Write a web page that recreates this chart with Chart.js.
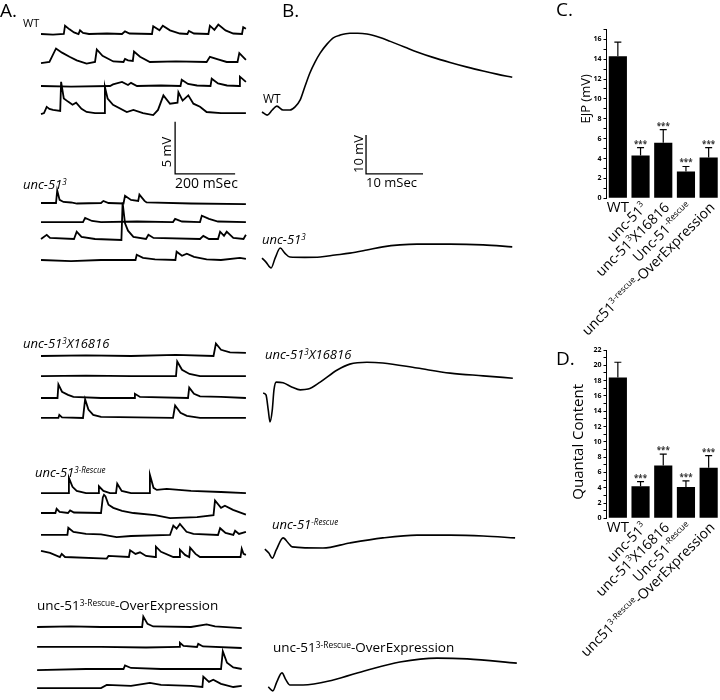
<!DOCTYPE html>
<html><head><meta charset="utf-8">
<script src="https://cdn.jsdelivr.net/npm/chart.js@4.4.1/dist/chart.umd.min.js"></script>
<style>
html,body{margin:0;padding:0;background:#fff;}
#wrap{position:relative;width:720px;height:700px;overflow:hidden;font-family:"Open Sans",sans-serif;color:#000;background:#fff;}
canvas{position:absolute;}
.lbl{position:absolute;white-space:nowrap;line-height:1;}
.lbl sup{font-size:0.62em;vertical-align:0.5em;line-height:0;}
</style></head><body><div id="wrap">
<canvas id="cA" width="255" height="700" style="left:0;top:0"></canvas>
<canvas id="cB" width="265" height="700" style="left:255px;top:0"></canvas>
<canvas id="cC" width="148" height="340" style="left:572px;top:0"></canvas>
<canvas id="cD" width="148" height="370" style="left:572px;top:330px"></canvas>
</div>
<script>
// ---------- Panels C & D : bar data ----------
const groupsC = ['WT', 'unc-51{3}', 'unc-51{3}X16816', 'Unc-51{-Rescue}', 'unc51{3-rescue}-OverExpression'];
const groupsD = ['WT', 'unc-51{3}', 'unc-51{3}X16816', 'Unc-51{-Rescue}', 'unc51{3-Rescue}-OverExpression'];
const ejpMean = [14.3, 4.3, 5.6, 2.7, 4.1];
const ejpErr  = [1.4, 0.8, 1.3, 0.5, 1.0];
const qcMean  = [18.4, 4.2, 6.9, 4.1, 6.6];
const qcErr   = [2.0, 0.6, 1.5, 0.8, 1.6];
const signif  = ['', '***', '***', '***', '***'];
const ejpTicks = [0, 2, 4, 6, 8, 10, 12, 14, 16];
const qcTicks  = [0, 2, 4, 6, 8, 10, 12, 14, 16, 18, 20, 22];

// ---------- Panel A : spontaneous traces [ms, mV] ----------
const wtA1 = [[0,0],[40,-0.05],[76,0],[80,0.8],[95,0.45],[110,0.15],[125,0],[130,0.35],[140,0.1],[160,0],[220,0.05],[270,0],[280,0.25],[295,0.05],[370,0],[374,0.75],[395,0.35],[406,0.8],[430,0.35],[463,0.05],[488,0],[493,0.3],[510,0.05],[558,0],[563,0.8],[578,0.4],[591,0.9],[615,0.35],[641,0.05],[670,0],[674,0.65],[683,0.5]];
const wtA2 = [[0,-0.1],[28,0],[50,1.3],[70,0.9],[95,0.5],[119,0.15],[152,-0.15],[180,0],[186,1.2],[205,0.6],[241,0.05],[275,0],[280,0.3],[290,0.15],[306,0.1],[310,1.0],[330,0.5],[363,0],[450,0.05],[552,0],[563,0.5],[590,0.25],[619,0],[655,0],[661,0.85],[683,0.2]];
const wtA3 = [[0,0],[100,-0.05],[230,0],[240,0.15],[270,0.4],[290,0.1],[300,0.3],[320,0],[400,0.05],[465,0],[469,0.6],[490,0.2],[520,0.05],[565,0],[569,0.7],[590,0.25],[620,0.05],[660,0],[663,0.9],[683,0.4]];
const wtA4 = [[0,-0.1],[10,0],[19,0.6],[28,0.4],[40,0.3],[64,0.2],[67,3.0],[76,1.4],[90,1.1],[105,0.8],[117,1.0],[135,0.4],[152,0.1],[180,0],[210,0],[213,2.5],[222,1.4],[240,0.8],[286,0.1],[308,0.3],[340,0],[374,-0.2],[390,0.3],[408,1.7],[430,0.9],[455,1.0],[458,2.0],[472,1.2],[491,1.7],[508,0.9],[530,0.6],[552,0.1],[600,0],[683,0]];
const uncA1 = [[0,0],[50,0],[54,1.2],[62,0.3],[75,0.1],[100,0.05],[120,-0.05],[200,0],[208,0.2],[225,0],[275,-0.05],[280,0.7],[300,0.3],[324,0.2],[328,0.8],[345,0.2],[352,0.05],[500,-0.05],[683,-0.1]];
const uncA2 = [[0,0],[140,0],[147,0.4],[170,0.1],[200,0],[320,0.05],[440,0],[447,0.3],[470,0.05],[530,0],[536,0.6],[560,0.3],[590,0.05],[683,0]];
const uncA3 = [[0,0],[19,0.4],[30,0.1],[110,0],[119,0.7],[135,0.2],[180,0],[268,-0.1],[272,3.5],[280,1.5],[290,0.8],[308,0.2],[350,0],[358,0.4],[375,0.1],[530,0],[541,0.3],[560,0],[590,0],[597,0.7],[610,0.3],[619,0.7],[641,0.1],[675,0],[683,0.4]];
const uncA4 = [[0,0],[100,-0.1],[200,0],[315,0],[319,0.5],[340,0.2],[380,0.05],[448,0],[452,0.8],[470,0.4],[486,0.6],[510,0.3],[552,0.05],[600,0],[663,0.2],[683,0.1]];
const xA1 = [[0,0],[150,0.05],[300,0],[450,0.1],[575,0],[583,1.2],[600,0.6],[630,0.35],[683,0.3]];
const xA2 = [[0,0],[150,0.05],[300,0],[450,0],[454,1.4],[470,0.6],[495,0.2],[530,0],[683,0]];
const xA3 = [[0,0],[55,0],[58,1.3],[70,0.6],[90,0.3],[108,0.1],[200,0],[310,0],[313,0.4],[330,0.1],[490,0],[494,1.0],[510,0.4],[530,0.15],[600,0.1],[683,0]];
const xA4 = [[0,0],[58,0],[61,0.3],[70,0.05],[140,0],[147,1.8],[158,0.8],[174,0.3],[200,0.1],[440,0],[447,1.2],[465,0.5],[486,0.2],[530,0],[683,0]];
const resA1 = [[0,0],[90,0],[93,1.45],[105,0.6],[119,0.2],[150,0],[190,0],[193,0.65],[208,0.2],[230,0],[250,0],[254,0.9],[269,0.2],[300,0],[360,0],[363,1.75],[375,0.5],[386,0.3],[419,0.4],[500,0.2],[600,0.1],[683,0]];
const resA2 = [[0,0],[48,0],[52,0.4],[62,0.1],[90,0],[97,0.25],[110,0.05],[200,0],[206,1.5],[210,1.75],[215,1.6],[225,0.8],[241,0.5],[270,0.2],[308,0],[380,-0.2],[430,-0.5],[520,-0.4],[575,-0.2],[580,1.2],[600,0.5],[613,0.7],[640,0.3],[683,-0.15]];
const resA3 = [[0,0],[88,0],[91,0.7],[108,0.3],[150,0.1],[200,0.05],[252,-0.2],[300,-0.1],[430,0],[441,0.9],[452,0.6],[463,1.05],[485,0.3],[508,0.1],[590,0],[597,0.65],[615,0.2],[641,0],[647,0.4],[660,0.1],[683,0.3]];
const resA4 = [[0,0.6],[30,0.4],[63,0],[69,0.3],[80,0],[219,-0.15],[225,0.1],[293,0],[297,0.65],[315,0.3],[330,0.45],[350,0.1],[380,0],[383,1.0],[400,0.5],[441,0],[460,0],[463,0.7],[480,0.2],[494,0],[497,0.9],[515,0.3],[530,0],[665,0],[669,0.8],[675,0.3],[683,0.2]];
const oeA1 = [[-13,0],[100,0.05],[200,0],[337,0],[341,1.0],[355,0.3],[374,0.05],[500,0],[552,0.25],[580,0.05],[669,-0.1]];
const oeA2 = [[-13,0],[200,0],[350,-0.05],[460,0],[463,0.4],[475,0.1],[520,0],[524,0.3],[540,0.05],[669,-0.1]];
const oeA3 = [[-13,-0.1],[150,0],[275,0],[280,0.35],[300,0.1],[400,0],[600,0],[606,1.7],[620,0.6],[641,0.15],[669,0]];
const oeA4 = [[-13,-0.1],[200,-0.1],[219,0.2],[300,0.1],[363,0.4],[400,0.2],[500,0.1],[538,0],[541,1.0],[560,0.5],[574,0.7],[600,0.3],[641,0],[669,0.1]];

// ---------- Panel B : averaged EJPs [ms, mV] ----------
const wtB  = [[0,-0.5],[0.9,-1.3],[1.8,0],[2.6,1.0],[3.7,0],[4.9,0],[5.8,0.8],[6.7,2.6],[7.5,5.9],[8.4,9.5],[9.3,12.3],[10.2,14.6],[11.4,16.9],[12.5,18.5],[13.7,19.2],[15.4,19.7],[16.8,19.7],[18.4,19.5],[20.7,18.6],[22.5,17.6],[25.1,16.1],[27.2,14.9],[30.0,13.5],[33.0,12.2],[36.0,11.0],[38.8,10.0],[41.2,9.2],[43.9,8.4]];
const uncB = [[0,-0.3],[0.7,-1.3],[1.6,-2.8],[2.3,-0.3],[3.2,2.3],[4.0,1.0],[4.9,0],[7.5,-0.1],[10.2,0],[12.8,0.5],[15.4,1.0],[18.4,1.8],[21.2,2.6],[24.2,3.1],[27.2,3.3],[33.0,3.3],[38.8,3.1],[43.9,2.6]];
const xB   = [[0.2,0],[0.7,-0.5],[1.1,-4.4],[1.4,-7.4],[1.8,-4.4],[2.1,0.8],[2.5,2.8],[3.7,2.6],[5.3,1.5],[6.7,0.8],[8.1,1.0],[10.2,2.8],[13.2,5.9],[15.4,7.4],[18.4,7.9],[21.2,7.7],[27.2,6.4],[33.0,5.1],[38.8,4.4],[44.0,3.8]];
const resB = [[0.5,-0.3],[1.2,-1.3],[1.8,-2.6],[2.5,-0.5],[3.7,2.6],[4.6,1.3],[5.3,0.3],[10.7,0],[15.4,1.3],[21.2,2.6],[27.2,3.3],[33.0,3.3],[38.8,3.1],[44.4,2.6]];
const oeB  = [[1.1,-0.5],[1.9,-1.5],[2.6,0.8],[3.5,3.1],[4.2,1.3],[4.9,0],[7.2,0],[12.5,1.3],[18.4,3.8],[24.2,5.9],[30.7,6.9],[36.0,6.7],[44.7,5.6]];

// ---------- layout (stack offsets in mV, scale bars) ----------
const aTraces  = [wtA1, wtA2, wtA3, wtA4, uncA1, uncA2, uncA3, uncA4, xA1, xA2, xA3, xA4, resA1, resA2, resA3, resA4, oeA1, oeA2, oeA3, oeA4];
const aOffsets = [64.04, 61.35, 59.04, 56.44, 47.79, 45.96, 44.33, 42.31, 33.08, 31.15, 29.04, 27.12, 19.90, 17.98, 15.87, 13.75, 7.02, 5.10, 2.98, 1.25];
const bTraces  = [wtB, uncB, xB, resB, oeB];
const bOffsets = [151.28, 113.59, 78.72, 38.97, 3.85];
const aBar = {t: 447, v: 50.6, dt: 200, dv: 5};
const bBar = {t: 18.25, v: 134.9, dt: 10, dv: 10};

function traceSets(traces, offs, w, smooth) {
  return traces.map((tr, k) => ({
    data: tr.map(p => ({x: p[0], y: p[1] + offs[k]})),
    showLine: true, borderColor: '#000', borderWidth: w, pointRadius: 0,
    tension: smooth ? 0.35 : 0, cubicInterpolationMode: smooth ? 'monotone' : 'default', fill: false
  }));
}
function barSet(b) {
  return {data: [{x: b.t, y: b.v + b.dv}, {x: b.t, y: b.v}, {x: b.t + b.dt, y: b.v}],
    showLine: true, borderColor: '#000', borderWidth: 1.3, pointRadius: 0, tension: 0, fill: false};
}
const baseOpts = (xmin, xmax, ymax) => ({
  responsive: false, animation: false, events: [],
  layout: {padding: 0},
  plugins: {legend: {display: false}, tooltip: {enabled: false}},
  scales: {x: {type: 'linear', display: false, min: xmin, max: xmax}, y: {type: 'linear', display: false, min: 0, max: ymax}}
});

new Chart(document.getElementById('cA'), {
  type: 'scatter',
  data: {datasets: traceSets(aTraces, aOffsets, 1.8, false).concat([barSet(aBar)])},
  options: baseOpts(-136.7, 713.3, 67.31)
});
new Chart(document.getElementById('cB'), {
  type: 'scatter',
  data: {datasets: traceSets(bTraces, bOffsets, 1.6, true).concat([barSet(bBar)])},
  options: baseOpts(-1.228, 45.26, 179.49)
});

// ---------- bar chart decorations ----------
function segs(s) {
  const out = []; const re = /([^{]+)|\{([^}]*)\}/g; let m;
  while ((m = re.exec(s))) out.push(m[1] !== undefined ? {t: m[1], sup: false} : {t: m[2], sup: true});
  return out;
}
const FONT = '"Open Sans", sans-serif';
const barDecor = {
  id: 'barDecor',
  afterDatasetsDraw(chart, args, o) {
    const ctx = chart.ctx, meta = chart.getDatasetMeta(0), y = chart.scales.y;
    const vals = chart.data.datasets[0].data, bottom = chart.chartArea.bottom;
    ctx.save();
    meta.data.forEach((bar, i) => {
      const top = y.getPixelForValue(vals[i]), et = y.getPixelForValue(vals[i] + o.err[i]);
      ctx.strokeStyle = '#000'; ctx.lineWidth = 1.2;
      ctx.beginPath(); ctx.moveTo(bar.x, top); ctx.lineTo(bar.x, et);
      ctx.moveTo(bar.x - 3.5, et); ctx.lineTo(bar.x + 3.5, et); ctx.stroke();
      if (o.sig[i]) {
        ctx.font = 'bold 8px ' + FONT; ctx.fillStyle = '#333'; ctx.textAlign = 'center'; ctx.textBaseline = 'alphabetic';
        ctx.fillText(o.sig[i], bar.x, et - 1);
      }
      // category label
      const sg = segs(chart.data.labels[i]);
      ctx.fillStyle = '#000'; ctx.textBaseline = 'alphabetic';
      if (i === 0) {
        ctx.font = '15px ' + FONT; ctx.textAlign = 'center';
        ctx.fillText(sg[0].t, bar.x, bottom + 14);
      } else {
        ctx.save();
        ctx.translate(bar.x + 7, bottom + 10); ctx.rotate(-Math.PI / 4);
        ctx.textAlign = 'left';
        let w = 0;
        sg.forEach(s => { ctx.font = (s.sup ? '8.5px ' : '14px ') + FONT; w += ctx.measureText(s.t).width; });
        let x = -w;
        sg.forEach(s => { ctx.font = (s.sup ? '8.5px ' : '14px ') + FONT; ctx.fillText(s.t, x, s.sup ? -5.5 : 0); x += ctx.measureText(s.t).width; });
        ctx.restore();
      }
    });
    // axis title
    ctx.save();
    ctx.translate(chart.chartArea.left - o.titleDx, y.getPixelForValue(o.titleAt));
    ctx.rotate(-Math.PI / 2);
    ctx.font = o.titleSize + 'px ' + FONT; ctx.textAlign = 'center'; ctx.textBaseline = 'middle'; ctx.fillStyle = '#000';
    ctx.fillText(o.title, 0, 0);
    ctx.restore();
    ctx.restore();
  }
};
function barChart(id, labels, vals, errs, ticks, ymax, padTop, padBottom, title, titleDx, titleSize) {
  return new Chart(document.getElementById(id), {
    type: 'bar',
    data: {labels: labels, datasets: [{data: vals, backgroundColor: '#000', borderWidth: 0, barPercentage: 0.8, categoryPercentage: 1}]},
    options: {
      responsive: false, animation: false, events: [],
      layout: {padding: {top: padTop, bottom: padBottom, left: 0, right: 0}},
      plugins: {legend: {display: false}, tooltip: {enabled: false},
        barDecor: {err: errs, sig: signif, title: title, titleAt: 10, titleDx: titleDx, titleSize: titleSize}},
      scales: {
        x: {display: false},
        y: {min: 0, max: ymax, afterFit: s => { s.width = 34.5; },
          border: {display: true, color: '#000', width: 1},
          grid: {display: true, drawOnChartArea: false, drawTicks: true, tickLength: 3, color: '#000', tickColor: '#000'},
          ticks: {stepSize: 1, autoSkip: false, padding: 2, color: '#000', font: {family: 'Open Sans', size: 7, weight: 'bold'},
            callback: v => ticks.includes(v) ? String(v) : ''}}
      }
    },
    plugins: [barDecor]
  });
}
barChart('cC', groupsC, ejpMean, ejpErr, ejpTicks, 17, 29.3, 340 - 198.3, 'EJP (mV)', 20.5, 13);
barChart('cD', groupsD, qcMean, qcErr, qcTicks, 22, 20, 370 - 188.3, 'Quantal Content', 27.5, 15);

// ---------- text labels ----------
const texts = [
  {h: 'A.', x: 0, b: 18, s: 19},
  {h: 'WT', x: 23, b: 27, s: 11},
  {h: 'unc-51<sup>3</sup>', x: 23, b: 190, s: 13, i: 1},
  {h: 'unc-51<sup>3</sup>X16816', x: 23, b: 349, s: 13, i: 1},
  {h: 'unc-51<sup>3-Rescue</sup>', x: 35, b: 478, s: 13, i: 1},
  {h: 'unc-51<sup>3-Rescue</sup>-OverExpression', x: 37, b: 611, s: 13.5},
  {h: '5 mV', cx: 166, cy: 152, s: 13},
  {h: '200 mSec', x: 175, b: 188, s: 14},
  {h: 'B.', x: 282, b: 18, s: 19},
  {h: 'WT', x: 263, b: 104, s: 12},
  {h: 'unc-51<sup>3</sup>', x: 262, b: 245, s: 13, i: 1},
  {h: 'unc-51<sup>3</sup>X16816', x: 265, b: 360, s: 13, i: 1},
  {h: 'unc-51<sup>-Rescue</sup>', x: 272, b: 530, s: 13, i: 1},
  {h: 'unc-51<sup>3-Rescue</sup>-OverExpression', x: 273, b: 653, s: 13.5},
  {h: '10 mV', cx: 358, cy: 154, s: 13},
  {h: '10 mSec', x: 366, b: 188, s: 13},
  {h: 'C.', x: 556, b: 17, s: 19},
  {h: 'D.', x: 556, b: 366, s: 19}
];
const wrap = document.getElementById('wrap');
texts.forEach(t => {
  const d = document.createElement('div');
  d.className = 'lbl'; d.innerHTML = t.h; d.style.fontSize = t.s + 'px';
  if (t.i) d.style.fontStyle = 'italic';
  if (t.cx !== undefined) {
    d.style.left = t.cx + 'px'; d.style.top = t.cy + 'px';
    d.style.transform = 'translate(-50%,-50%) rotate(-90deg)';
  } else {
    d.style.left = t.x + 'px'; d.style.top = (t.b - 0.888 * t.s) + 'px';
  }
  wrap.appendChild(d);
});
</script></body></html>
